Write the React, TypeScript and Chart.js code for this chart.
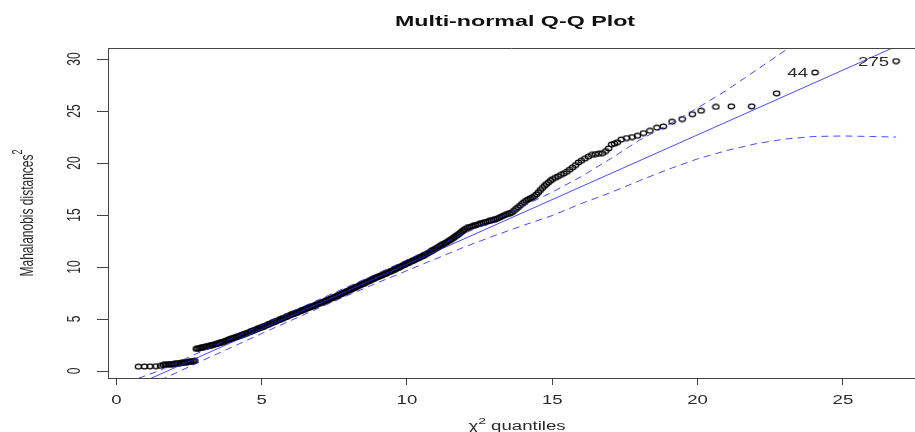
import React, { useEffect, useRef } from 'react';
import { Chart, registerables } from 'chart.js';

Chart.register(...registerables);

// ---------- text ----------
const titleText = 'Multi-normal Q-Q Plot';
const xTitleParts = ['χ', '2', ' quantiles'];
const yTitleParts = ['Mahalanobis distances', '2'];

// ---------- axes ----------
const xTicks = [0, 5, 10, 15, 20, 25];
const yTicks = [0, 5, 10, 15, 20, 25, 30];
const xRange = [-0.286, 27.48];
const yRange = [-0.673, 31.06];

// ---------- data (chi-square quantile, squared Mahalanobis distance) ----------
const lowTailX = [0.76, 0.97, 1.16, 1.36, 1.52];
const lowTailY = [0.42, 0.43, 0.45, 0.46, 0.49];

const lowBandX = [1.62, 1.68, 1.74, 1.8, 1.85, 1.9, 1.95, 2.0, 2.05, 2.1, 2.15, 2.2, 2.25, 2.3, 2.35, 2.4, 2.45, 2.5, 2.55, 2.6, 2.65, 2.7];
const lowBandY = [0.58, 0.6, 0.62, 0.64, 0.65, 0.66, 0.67, 0.68, 0.7, 0.72, 0.74, 0.76, 0.78, 0.8, 0.82, 0.84, 0.86, 0.88, 0.9, 0.93, 0.95, 0.98];

const bodyX = [
  2.75, 2.8, 2.85, 2.9, 2.95, 3, 3.05, 3.1, 3.15, 3.2,
  3.25, 3.3, 3.35, 3.4, 3.45, 3.5, 3.55, 3.6, 3.65, 3.7,
  3.75, 3.8, 3.85, 3.9, 3.95, 4, 4.05, 4.1, 4.15, 4.2,
  4.25, 4.3, 4.35, 4.4, 4.45, 4.5, 4.55, 4.6, 4.65, 4.7,
  4.75, 4.8, 4.85, 4.9, 4.95, 5, 5.05, 5.1, 5.15, 5.2,
  5.25, 5.3, 5.35, 5.4, 5.45, 5.5, 5.55, 5.6, 5.65, 5.7,
  5.75, 5.8, 5.85, 5.9, 5.95, 6, 6.05, 6.1, 6.15, 6.2,
  6.25, 6.3, 6.35, 6.4, 6.45, 6.5, 6.55, 6.6, 6.65, 6.7,
  6.75, 6.8, 6.85, 6.9, 6.95, 7, 7.05, 7.1, 7.15, 7.2,
  7.25, 7.3, 7.35, 7.4, 7.45, 7.5, 7.55, 7.6, 7.65, 7.7,
  7.75, 7.8, 7.85, 7.9, 7.95, 8, 8.05, 8.1, 8.15, 8.2,
  8.25, 8.3, 8.35, 8.4, 8.45, 8.5, 8.55, 8.6, 8.65, 8.7,
  8.75, 8.8, 8.85, 8.9, 8.95, 9, 9.05, 9.1, 9.15, 9.2,
  9.25, 9.3, 9.35, 9.4, 9.45, 9.5, 9.55, 9.6, 9.65, 9.7,
  9.75, 9.8, 9.85, 9.9, 9.95, 10, 10.05, 10.1, 10.15, 10.2,
  10.25, 10.3, 10.35, 10.4, 10.45, 10.5, 10.55, 10.6, 10.65, 10.7,
  10.75, 10.8, 10.85, 10.9, 10.95, 11, 11.05, 11.1, 11.15, 11.2,
  11.25, 11.3, 11.35, 11.4, 11.45, 11.5, 11.55, 11.6, 11.65, 11.7,
  11.75, 11.8, 11.85, 11.9, 11.95, 12,
];
const bodyY = [
  2.13, 2.15, 2.18, 2.22, 2.26, 2.3, 2.32, 2.35, 2.38, 2.42,
  2.45, 2.49, 2.53, 2.56, 2.6, 2.65, 2.7, 2.74, 2.78, 2.83,
  2.88, 2.94, 3.0, 3.05, 3.1, 3.15, 3.19, 3.23, 3.28, 3.33,
  3.38, 3.43, 3.49, 3.55, 3.6, 3.65, 3.7, 3.76, 3.82, 3.88,
  3.93, 3.98, 4.04, 4.09, 4.15, 4.2, 4.26, 4.32, 4.38, 4.44,
  4.5, 4.56, 4.62, 4.68, 4.74, 4.8, 4.86, 4.91, 4.97, 5.03,
  5.09, 5.15, 5.22, 5.28, 5.34, 5.4, 5.45, 5.5, 5.56, 5.62,
  5.67, 5.72, 5.78, 5.84, 5.9, 5.95, 6.01, 6.06, 6.11, 6.17,
  6.22, 6.28, 6.33, 6.39, 6.45, 6.5, 6.56, 6.62, 6.68, 6.74,
  6.8, 6.86, 6.92, 6.98, 7.04, 7.1, 7.16, 7.23, 7.29, 7.36,
  7.42, 7.49, 7.55, 7.62, 7.69, 7.75, 7.81, 7.87, 7.94, 8.0,
  8.07, 8.14, 8.2, 8.27, 8.33, 8.4, 8.46, 8.53, 8.6, 8.66,
  8.73, 8.79, 8.86, 8.92, 8.99, 9.05, 9.11, 9.17, 9.23, 9.29,
  9.35, 9.41, 9.47, 9.53, 9.59, 9.65, 9.72, 9.79, 9.86, 9.93,
  10.0, 10.07, 10.14, 10.21, 10.28, 10.35, 10.41, 10.48, 10.54, 10.61,
  10.67, 10.74, 10.8, 10.87, 10.93, 11.0, 11.07, 11.15, 11.22, 11.3,
  11.38, 11.46, 11.55, 11.63, 11.71, 11.8, 11.88, 11.96, 12.04, 12.12,
  12.2, 12.28, 12.36, 12.44, 12.52, 12.6, 12.7, 12.8, 12.9, 13.0,
  13.1, 13.2, 13.32, 13.44, 13.55, 13.65,
];

const midX = [12.07, 12.14, 12.21, 12.28, 12.35, 12.42, 12.49, 12.56, 12.63, 12.7, 12.77, 12.84, 12.91, 12.98, 13.05, 13.12, 13.19, 13.26, 13.33, 13.4, 13.47, 13.54, 13.61, 13.68, 13.75, 13.82, 13.89, 13.96, 14.03, 14.1, 14.17, 14.24, 14.31, 14.38, 14.45, 14.52, 14.59, 14.66, 14.73, 14.8, 14.87, 14.94, 15.01];
const midY = [13.76, 13.84, 13.9, 13.96, 14.02, 14.08, 14.14, 14.2, 14.26, 14.32, 14.38, 14.44, 14.49, 14.54, 14.6, 14.68, 14.76, 14.86, 14.95, 15.03, 15.1, 15.16, 15.25, 15.4, 15.58, 15.74, 15.9, 16.08, 16.24, 16.38, 16.5, 16.6, 16.7, 16.82, 16.98, 17.18, 17.4, 17.6, 17.8, 17.98, 18.14, 18.3, 18.45];

const tailX = [15.1, 15.2, 15.3, 15.4, 15.5, 15.6, 15.7, 15.8, 15.9, 16.0, 16.12, 16.24, 16.36, 16.48, 16.6, 16.72, 16.84, 16.94, 17.04, 17.14, 17.24, 17.37, 17.56, 17.75, 17.93, 18.14, 18.36, 18.6, 18.82, 19.12, 19.47, 19.82, 20.12, 20.63, 21.16, 21.86, 22.72, 24.04, 26.83];
const tailY = [18.58, 18.72, 18.86, 19.0, 19.16, 19.36, 19.58, 19.8, 20.05, 20.22, 20.42, 20.62, 20.78, 20.86, 20.9, 20.95, 21.15, 21.4, 21.78, 21.86, 22.0, 22.25, 22.4, 22.5, 22.62, 22.88, 23.1, 23.4, 23.52, 23.97, 24.23, 24.7, 25.03, 25.4, 25.45, 25.45, 26.7, 28.7, 29.8];

// identified observations (rank from the top) and their ids
const outlierIds = ['44', '275'];
const outlierRank = [2, 1];

// reference line and pointwise envelope
const fitX = [0, 28];
const fitY = [-2.19, 32.67];
const upperEnvX = [0.76, 1.5, 2, 3, 4, 5, 6, 7, 8, 9, 10, 11, 12, 13, 14, 15, 16, 17, 18, 19, 20, 21, 22, 23, 24];
const upperEnvY = [-0.7, 0.05, 0.72, 1.95, 3.18, 4.4, 5.65, 6.9, 8.15, 9.4, 10.68, 11.95, 13.25, 14.55, 15.85, 17.2, 18.7, 20.4, 22.2, 23.7, 25.3, 27.0, 28.9, 30.8, 32.6];
const lowerEnvX = [0.76, 1.5, 2, 3, 4, 5, 6, 7, 8, 9, 10, 11, 12, 13, 14, 15, 16, 17, 18, 19, 20, 21, 22, 23, 24, 25, 26, 26.83];
const lowerEnvY = [-1.9, -0.9, -0.25, 1.05, 2.32, 3.6, 4.85, 6.1, 7.32, 8.5, 9.65, 10.8, 11.95, 13.0, 14.0, 14.95, 16.1, 17.15, 18.3, 19.4, 20.4, 21.2, 21.85, 22.3, 22.55, 22.6, 22.55, 22.5];

// ---------- style ----------
const FONT = '"Liberation Sans", Arial, Helvetica, sans-serif';
const STRETCH = 1.55;
const BOX_COLOR = '#444444';
const TEXT_COLOR = '#2a2a2a';
const LINE_COLOR = 'rgba(30,30,255,0.8)';

const zip = (xs: number[], ys: number[]) => xs.map((x, i) => ({ x, y: ys[i] }));

function drawPieces(
  ctx: CanvasRenderingContext2D,
  pieces: { text: string; size: number; dy: number; bold?: boolean }[],
  x: number,
  y: number,
  rotate: boolean
) {
  ctx.save();
  ctx.translate(x, y);
  ctx.scale(STRETCH, 1);
  if (rotate) ctx.rotate(-Math.PI / 2);
  let total = 0;
  const widths = pieces.map((p) => {
    ctx.font = `${p.bold ? 'bold ' : ''}${p.size}px ${FONT}`;
    const w = ctx.measureText(p.text).width;
    total += w;
    return w;
  });
  let cx = -total / 2;
  ctx.textAlign = 'left';
  ctx.textBaseline = 'alphabetic';
  pieces.forEach((p, i) => {
    ctx.font = `${p.bold ? 'bold ' : ''}${p.size}px ${FONT}`;
    ctx.fillText(p.text, cx, p.dy);
    cx += widths[i];
  });
  ctx.restore();
}

function drawRight(ctx: CanvasRenderingContext2D, text: string, x: number, y: number) {
  ctx.save();
  ctx.translate(x, y);
  ctx.scale(STRETCH, 1);
  ctx.font = `12px ${FONT}`;
  ctx.textAlign = 'right';
  ctx.textBaseline = 'alphabetic';
  ctx.fillText(text, 0, 0);
  ctx.restore();
}

const rTextPlugin = {
  id: 'rText',
  afterDraw(chart: any) {
    const { ctx, chartArea, scales } = chart;
    const xs = scales.x;
    const ys = scales.y;
    ctx.save();
    // top of the box
    ctx.strokeStyle = BOX_COLOR;
    ctx.lineWidth = 1;
    ctx.beginPath();
    const ty = Math.round(chartArea.top) + 0.5;
    ctx.moveTo(chartArea.left, ty);
    ctx.lineTo(chartArea.right, ty);
    ctx.stroke();

    ctx.fillStyle = TEXT_COLOR;
    // x tick labels
    xTicks.forEach((v) => {
      drawPieces(ctx, [{ text: String(v), size: 12, dy: 0 }], xs.getPixelForValue(v), 404, false);
    });
    // y tick labels (rotated)
    yTicks.forEach((v) => {
      drawPieces(ctx, [{ text: String(v), size: 12, dy: 0 }], 80, ys.getPixelForValue(v), true);
    });
    // title
    ctx.fillStyle = '#111111';
    drawPieces(ctx, [{ text: titleText, size: 15, dy: 0, bold: true }], 515, 26, false);
    ctx.fillStyle = TEXT_COLOR;
    // x title
    drawPieces(
      ctx,
      [
        { text: xTitleParts[0], size: 12, dy: 0 },
        { text: xTitleParts[1], size: 9, dy: -6 },
        { text: xTitleParts[2], size: 12, dy: 0 },
      ],
      517,
      430,
      false
    );
    // y title
    drawPieces(
      ctx,
      [
        { text: yTitleParts[0], size: 12, dy: 0 },
        { text: yTitleParts[1], size: 9, dy: -7 },
      ],
      33,
      (chartArea.top + chartArea.bottom) / 2,
      true
    );
    // identified points
    const allX = [...lowTailX, ...lowBandX, ...bodyX, ...midX, ...tailX];
    const allY = [...lowTailY, ...lowBandY, ...bodyY, ...midY, ...tailY];
    outlierIds.forEach((id, i) => {
      const k = allX.length - outlierRank[i];
      const px = xs.getPixelForValue(allX[k]);
      const py = ys.getPixelForValue(allY[k]);
      drawRight(ctx, id, px - 7, py + 4.5);
    });
    ctx.restore();
  },
};

export default function App() {
  const canvasRef = useRef<HTMLCanvasElement | null>(null);

  useEffect(() => {
    if (!canvasRef.current) return;
    // horizontally stretched open circle, like the reference's stretched R plot
    const marker = document.createElement('canvas');
    marker.width = 9;
    marker.height = 7;
    const g = marker.getContext('2d')!;
    g.strokeStyle = '#000000';
    g.lineWidth = 1.25;
    g.beginPath();
    g.ellipse(4.5, 3.5, 3.2, 2.3, 0, 0, Math.PI * 2);
    g.stroke();

    const points = [
      ...zip(lowTailX, lowTailY),
      ...zip(lowBandX, lowBandY),
      ...zip(bodyX, bodyY),
      ...zip(midX, midY),
      ...zip(tailX, tailY),
    ];

    const chart = new Chart(canvasRef.current, {
      type: 'scatter',
      data: {
        datasets: [
          {
            data: zip(fitX, fitY),
            showLine: true,
            borderColor: LINE_COLOR,
            borderWidth: 1,
            pointRadius: 0,
            order: 1,
          },
          {
            data: zip(upperEnvX, upperEnvY),
            showLine: true,
            borderColor: LINE_COLOR,
            borderWidth: 1,
            borderDash: [7, 5],
            pointRadius: 0,
            order: 1,
          },
          {
            data: zip(lowerEnvX, lowerEnvY),
            showLine: true,
            borderColor: LINE_COLOR,
            borderWidth: 1,
            borderDash: [7, 5],
            pointRadius: 0,
            order: 1,
          },
          {
            data: points,
            showLine: false,
            pointStyle: marker as any,
            pointRadius: 3,
            order: 2,
          },
        ],
      },
      options: {
        animation: false,
        responsive: true,
        maintainAspectRatio: false,
        devicePixelRatio: 1,
        layout: { padding: { top: 48, left: 0, right: 0, bottom: 0 }, autoPadding: false },
        plugins: {
          legend: { display: false },
          title: { display: false },
          tooltip: { enabled: false },
        },
        events: [],
        scales: {
          x: {
            type: 'linear',
            position: 'bottom',
            min: xRange[0],
            max: xRange[1],
            afterBuildTicks: (s: any) => {
              s.ticks = xTicks.map((v) => ({ value: v }));
            },
            afterFit: (s: any) => {
              s.height = 54;
            },
            ticks: { display: false },
            grid: { drawOnChartArea: false, drawTicks: true, tickLength: 7, color: BOX_COLOR, lineWidth: 1 },
            border: { display: true, color: BOX_COLOR, width: 1 },
          },
          y: {
            type: 'linear',
            position: 'left',
            min: yRange[0],
            max: yRange[1],
            afterBuildTicks: (s: any) => {
              s.ticks = yTicks.map((v) => ({ value: v }));
            },
            afterFit: (s: any) => {
              s.width = 108;
            },
            ticks: { display: false },
            grid: { drawOnChartArea: false, drawTicks: true, tickLength: 11, color: BOX_COLOR, lineWidth: 1 },
            border: { display: true, color: BOX_COLOR, width: 1 },
          },
        },
      } as any,
      plugins: [rTextPlugin],
    });
    return () => chart.destroy();
  }, []);

  return (
    <div style={{ position: 'fixed', left: 0, top: 0, width: 915, height: 432, background: '#ffffff' }}>
      <canvas ref={canvasRef} />
    </div>
  );
}
